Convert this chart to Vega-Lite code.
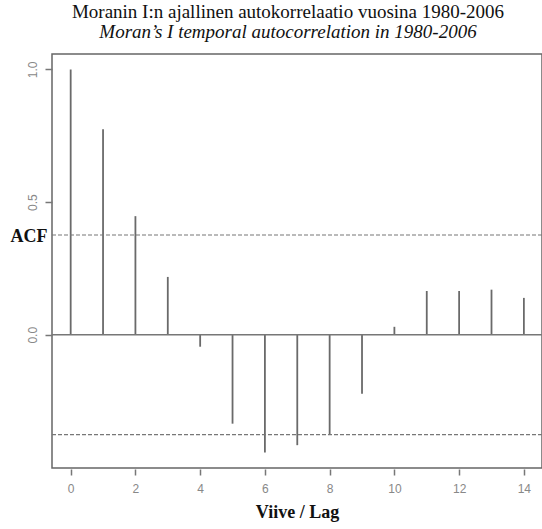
{
  "$schema": "https://vega.github.io/schema/vega-lite/v6.json",
  "width": 490,
  "height": 414,
  "autosize": {"type": "none"},
  "padding": {"left": 52, "top": 54, "right": 0, "bottom": 61},
  "background": "white",
  "title": {
    "text": "Moranin I:n ajallinen autokorrelaatio vuosina 1980-2006",
    "subtitle": "Moran’s I temporal autocorrelation in 1980-2006",
    "font": "Liberation Serif",
    "fontSize": 19,
    "fontWeight": "normal",
    "color": "#111",
    "subtitleFont": "Liberation Serif",
    "subtitleFontSize": 19,
    "subtitleFontStyle": "italic",
    "subtitleColor": "#111",
    "subtitlePadding": 1,
    "anchor": "middle",
    "dx": -9,
    "offset": 12
  },
  "config": {
    "view": {"stroke": "#666", "strokeWidth": 1.5},
    "axis": {
      "grid": false,
      "domain": false,
      "labelFont": "Liberation Sans",
      "labelFontSize": 12,
      "labelColor": "#888",
      "tickColor": "#777",
      "tickWidth": 1.5,
      "titleFont": "Liberation Serif",
      "titleFontSize": 18,
      "titleFontWeight": "bold",
      "titleColor": "#111"
    }
  },
  "data": {
    "values": [
      {"lag": 0, "acf": 1.0},
      {"lag": 1, "acf": 0.774},
      {"lag": 2, "acf": 0.447},
      {"lag": 3, "acf": 0.218},
      {"lag": 4, "acf": -0.045},
      {"lag": 5, "acf": -0.335},
      {"lag": 6, "acf": -0.444},
      {"lag": 7, "acf": -0.416},
      {"lag": 8, "acf": -0.376},
      {"lag": 9, "acf": -0.222},
      {"lag": 10, "acf": 0.03},
      {"lag": 11, "acf": 0.165},
      {"lag": 12, "acf": 0.165},
      {"lag": 13, "acf": 0.17},
      {"lag": 14, "acf": 0.139}
    ]
  },
  "encoding": {
    "x": {
      "field": "lag",
      "type": "quantitative",
      "scale": {"domain": [-0.577, 14.56], "nice": false, "zero": false},
      "axis": {
        "values": [0, 2, 4, 6, 8, 10, 12, 14],
        "tickSize": 6,
        "offset": 1,
        "labelPadding": 8,
        "title": "Viive / Lag",
        "titlePadding": 9
      }
    },
    "y": {
      "field": "acf",
      "type": "quantitative",
      "scale": {"domain": [-0.502, 1.058], "nice": false, "zero": false},
      "axis": {
        "values": [0, 0.5, 1.0],
        "format": ".1f",
        "tickSize": 7,
        "labelAngle": -90,
        "labelAlign": "center",
        "labelBaseline": "bottom",
        "labelPadding": 6,
        "title": "ACF",
        "titleAngle": 0,
        "titleAlign": "right",
        "titleBaseline": "middle",
        "titleX": -5,
        "titleY": 182
      }
    }
  },
  "layer": [
    {
      "mark": {"type": "rule", "color": "#6a6a6a", "strokeWidth": 1.8},
      "encoding": {"y2": {"datum": 0}}
    },
    {
      "data": {"values": [{"h": 0}]},
      "mark": {"type": "rule", "color": "#777", "strokeWidth": 1.5},
      "encoding": {"x": null, "y": {"field": "h", "type": "quantitative"}}
    },
    {
      "data": {"values": [{"ci": 0.376}, {"ci": -0.376}]},
      "mark": {"type": "rule", "color": "#777", "strokeWidth": 1.2, "strokeDash": [4, 2]},
      "encoding": {"x": null, "y": {"field": "ci", "type": "quantitative"}}
    }
  ]
}
